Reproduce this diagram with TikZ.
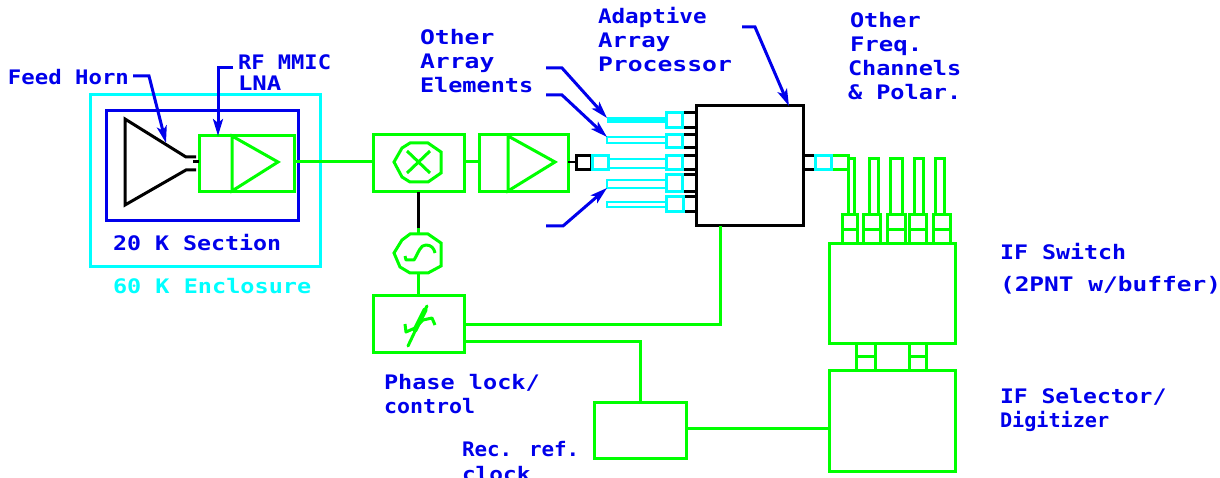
\documentclass[tikz,border=0pt]{standalone}
\usepackage{fontspec}
\usetikzlibrary{arrows.meta}
\newfontfamily\cadfont[FakeStretch=1.2]{DejaVu Sans Mono}
\definecolor{cadblue}{RGB}{0,0,235}
\definecolor{cadgreen}{RGB}{0,255,0}
\definecolor{cadcyan}{RGB}{0,255,255}
\tikzset{
  gl/.style={draw=cadgreen,line width=3pt},
  cl/.style={draw=cadcyan,line width=3pt},
  bl/.style={draw=black,line width=3pt},
  ul/.style={draw=cadblue,line width=3pt},
  leader/.style={draw=cadblue,line width=3pt,-{Stealth[length=17pt,width=10pt,inset=4pt]}},
  lab/.style={anchor=base west,inner sep=0pt,outer sep=0pt,text=cadblue,font=\cadfont\bfseries\fontsize{20}{21}\selectfont},
  bxs/.style={rectangle,inner sep=0pt,outer sep=0pt},
}
% name, style, x1, y1, x2, y2
\newcommand{\boxat}[6]{%
  \pgfmathsetmacro{\bxw}{#5-#3}\pgfmathsetmacro{\bxh}{#6-#4}%
  \pgfmathsetmacro{\bxx}{(#3+#5)/2}\pgfmathsetmacro{\bxy}{(#4+#6)/2}%
  \node[bxs,#2,minimum width=\bxw pt,minimum height=\bxh pt] (#1) at (\bxx,\bxy) {};%
}
\newcommand{\sx}[2]{\scalebox{#1}[1]{#2}}
\begin{document}
\begin{tikzpicture}[x=1pt,y=-1pt]
\useasboundingbox (0,0) rectangle (1220,478);
\clip (0,0) rectangle (1220,478);
\coordinate (rfy) at (0,162);
% enclosures
\boxat{enc60}{cl}{90}{95}{320}{267}
\boxat{sec20}{ul}{106}{111}{298}{221}
% horn
\coordinate (hornpt) at (166,143);
\draw[bl,line join=miter] (196,157) -- (186,157) -- (125,119) -- (125,205) -- (186,170) -- (196,170);
\coordinate (hornstub) at (193,162);
% LNA
\boxat{lna}{gl}{199}{136}{294}{192}
\draw[bl] (hornstub) -- (lna.west |- hornstub);
\draw[gl,line join=miter] (232,136) -- (278,162) -- (232,191) -- cycle;
% mixer
\boxat{mix}{gl}{373}{135}{464}{192}
\draw[gl] (lna.east |- rfy) -- (mix.west |- rfy);
\draw[gl] (394,162) -- (402,148) -- (410,143) -- (428,143) -- (441,152) -- (441,173) -- (428,182) -- (410,182) -- (402,177) -- cycle;
\draw[gl] (407,151) -- (430,173) (430,151) -- (407,173);
% amp
\boxat{amp}{gl}{479}{135}{568}{192}
\draw[gl] (mix.east |- rfy) -- (amp.west |- rfy);
\draw[gl,line join=miter] (508,136) -- (555,162) -- (508,191) -- cycle;
% processor
\boxat{main}{bl}{696}{106}{803}{226}
% rows of ports
\boxat{bk1}{bl}{682}{113}{696}{128}
\boxat{bk2}{bl}{682}{135}{696}{148}
\boxat{bk3}{bl}{682}{156}{696}{170}
\boxat{bk4}{bl}{682}{175}{696}{192}
\draw[bl] (683,197) -- (696,197) (683,212) -- (696,212);
\boxat{ln1}{cl,line width=1pt,fill=cadcyan}{607}{118}{666}{123}
\boxat{ln2}{cl,line width=2.5pt}{607}{137}{666}{143}
\boxat{ln4}{cl,line width=2.5pt}{607}{180}{666}{188}
\boxat{ln5}{cl,line width=2.5pt}{607}{202}{666}{207}
\boxat{ln3}{cl,line width=2.5pt}{608}{159}{666}{168}
\boxat{cy1}{cl,fill=white}{666}{113}{682}{128}
\boxat{cy2}{cl,fill=white}{666}{135}{682}{148}
\boxat{cy3}{cl,fill=white}{666}{156}{682}{170}
\boxat{cy4}{cl,fill=white}{666}{175}{682}{192}
\boxat{cy5}{cl,fill=white}{666}{197}{683}{212}
% input chain
\boxat{blkin}{bl}{576}{156}{591}{170}
\boxat{cyin}{cl,fill=white}{592}{156}{608}{170}
\draw[bl,line width=2pt] (amp.east |- rfy) -- (blkin.west |- rfy);
% output chain
\boxat{blkout}{bl}{803}{156}{815}{170}
\boxat{grout}{gl}{831}{156}{848}{170}
\boxat{cyout}{cl}{815}{156}{831}{170}
% IF switch
\boxat{sw}{gl}{829}{244}{955}{343}
\boxat{sel}{gl}{829}{370}{955}{471}
\boxat{t1}{gl}{848}{159}{854}{215}
\boxat{t2}{gl}{869}{159}{878}{215}
\boxat{t3}{gl}{890}{159}{902}{215}
\boxat{t4}{gl}{914}{159}{923}{215}
\boxat{t5}{gl}{935}{159}{944}{215}
\boxat{s1}{gl}{842}{215}{857}{244}
\boxat{s2}{gl}{863}{215}{880}{244}
\boxat{s3}{gl}{887}{215}{905}{244}
\boxat{s4}{gl}{909}{215}{926}{244}
\boxat{s5}{gl}{933}{215}{950}{244}
\foreach \n in {s1,s2,s3,s4,s5}{
  \draw[gl] ([xshift=-1pt]\n.west) -- ([xshift=1pt]\n.east);
}
\boxat{v1}{gl}{856}{343}{875}{370}
\boxat{v2}{gl}{909}{343}{926}{370}
\draw[gl] ([xshift=-1pt]v1.west) -- ([xshift=1pt]v1.east);
\draw[gl] ([xshift=-1pt]v2.west) -- ([xshift=1pt]v2.east);
% oscillator
\coordinate (osctop) at (418,234);
\coordinate (oscbot) at (418,273);
\draw[gl] (394,253) -- (402,240) -- (410,234) -- (428,234) -- (441,243) -- (441,266) -- (428,273) -- (410,273) -- (400,267) -- cycle;
\draw[gl,line join=round] (405,256) -- (406,260) -- (414,260) .. controls (419,252) and (420,245) .. (426,245) .. controls (431,245) and (434,248) .. (435,253);
\draw[bl] (mix.south -| osctop) -- ([yshift=6pt]osctop);
\draw[gl] ([yshift=6pt]osctop) -- (osctop);
% phase lock
\boxat{pll}{gl}{373}{295}{464}{352}
\draw[gl] (oscbot) -- (pll.north -| oscbot);
\draw[gl,line cap=round] (408,346) -- (427,306);
\draw[gl,line width=5pt,line cap=round] (415,330) -- (425,310);
\draw[gl,line join=round] (405,324) -- (406,332) -- (415,328) -- (423,320) -- (432,318) -- (435,325);
% ref clock
\boxat{ref}{gl}{594}{402}{686}{458}
\coordinate (a1) at (464,324);
\coordinate (a2) at (720,324);
\draw[gl] (a1) -- (a2) -- (main.south -| a2);
\coordinate (b1) at (464,341);
\coordinate (b2) at (640,341);
\draw[gl] (b1) -- (b2) -- (ref.north -| b2);
\coordinate (c1) at (686,428);
\draw[gl] (c1) -- (sel.west |- c1);
% leaders
\coordinate (l1a) at (133,76); \coordinate (l1b) at (149,76);
\draw[leader] (l1a) -- (l1b) -- (hornpt);
\coordinate (l2a) at (233,68); \coordinate (l2b) at (218,68);
\draw[leader] (l2a) -- (l2b) -- (lna.north -| l2b);
\coordinate (l3a) at (546,68); \coordinate (l3b) at (562,68);
\draw[leader] (l3a) -- (l3b) -- (ln1.north west);
\coordinate (l4a) at (546,95); \coordinate (l4b) at (562,95);
\draw[leader] (l4a) -- (l4b) -- (ln2.north west);
\coordinate (l5a) at (546,226); \coordinate (l5b) at (563,226);
\draw[leader] (l5a) -- (l5b) -- (ln4.south west);
\coordinate (l6a) at (742,27); \coordinate (l6b) at (755,27); \coordinate (l6c) at (789,106);
\draw[leader] (l6a) -- (l6b) -- (l6c);
% labels
\node[lab] (tfeed) at (8,85) {\sx{.93}{Feed Horn}};
\node[lab] (trf) at (238,70) {\sx{.92}{RF MMIC}};
\node[lab] (tlna) at (238,91) {LNA};
\node[lab] (t20) at (113,251) {\sx{.97}{20 K Section}};
\node[lab,text=cadcyan] (t60) at (113,294) {\sx{.98}{60 K Enclosure}};
\node[lab] (toth) at (420,45) {\sx{1.03}{Other}};
\node[lab] (tarr) at (420,69) {\sx{1.03}{Array}};
\node[lab] (tele) at (420,93) {\sx{.98}{Elements}};
\node[lab] (tada) at (598,24) {\sx{.94}{Adaptive}};
\node[lab] (tar2) at (598,48) {Array};
\node[lab] (tpro) at (598,72) {\sx{1.03}{Processor}};
\node[lab] (tot2) at (850,28) {\sx{.98}{Other}};
\node[lab] (tfrq) at (850,52) {Freq.};
\node[lab] (tchn) at (848,76) {\sx{.98}{Channels}};
\node[lab] (tpol) at (848,100) {\sx{.98}{\& Polar.}};
\node[lab] (tsw) at (1000,259) {\sx{.97}{IF Switch}};
\node[lab] (tpnt) at (1000,291) {\sx{1.02}{(2PNT w/buffer)}};
\node[lab] (tsel) at (1000,403) {\sx{.96}{IF Selector/}};
\node[lab] (tdig) at (1000,427) {\sx{.84}{Digitizer}};
\node[lab] (tph) at (384,389) {\sx{.98}{Phase lock/}};
\node[lab] (tctl) at (384,413) {\sx{.9}{control}};
\node[lab] (trec) at (462,456) {\sx{.87}{Rec. ref.}};
\node[lab] (tclk) at (462,481) {\sx{.95}{clock}};
\end{tikzpicture}
\end{document}
